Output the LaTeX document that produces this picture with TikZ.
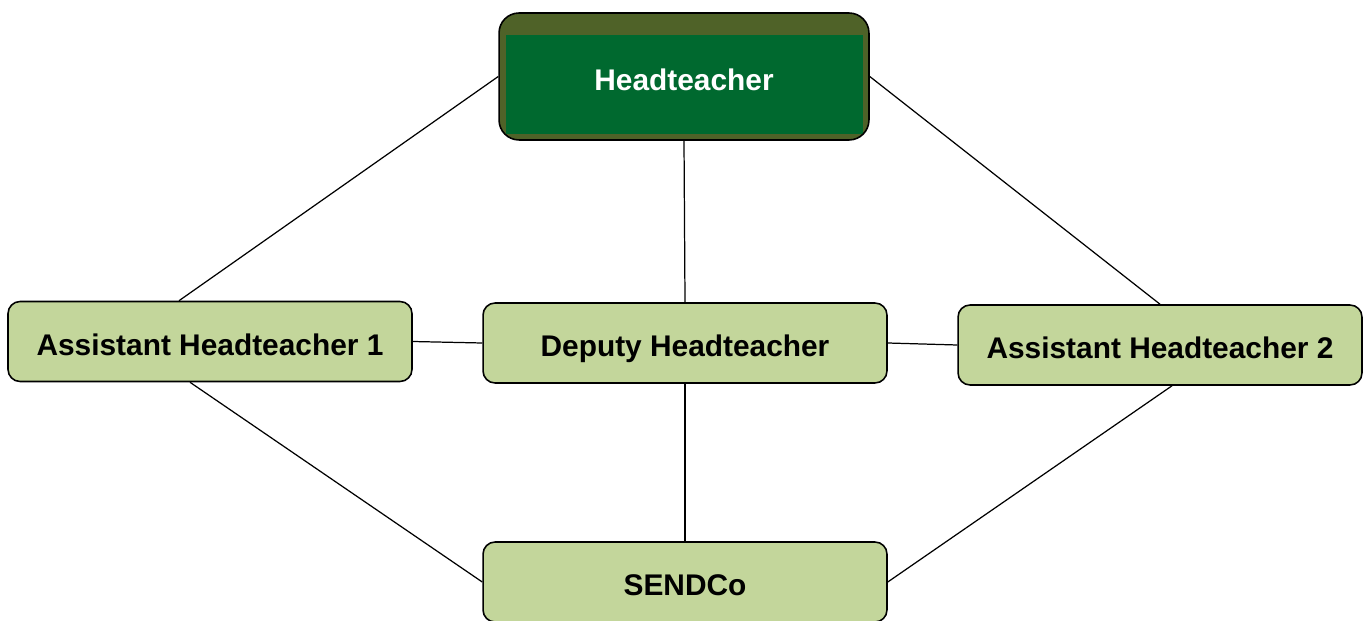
\documentclass[tikz,border=0pt]{standalone}
\usepackage{fontspec}
\setmainfont{Liberation Sans}
\usetikzlibrary{calc}
\definecolor{boxgreen}{HTML}{C3D69B}
\definecolor{headolive}{HTML}{4F6228}
\definecolor{headgreen}{HTML}{00692F}
\tikzset{
rolebox/.style={draw=black,line width=0.9pt,fill=boxgreen,rounded corners=0.24cm,
  minimum width=8.08cm,minimum height=1.6cm,text height=0.55cm,text depth=0pt,font=\fontsize{17}{20}\selectfont\bfseries},
headbox/.style={draw=black,line width=0.9pt,fill=headolive,rounded corners=0.4cm,
  minimum width=7.4cm,minimum height=2.54cm,text=white,text height=0.55cm,text depth=0pt,font=\fontsize{17}{20}\selectfont\bfseries,
  path picture={\fill[headgreen,sharp corners] ($(path picture bounding box.north west)+(0.14cm,-0.44cm)$)
    rectangle ($(path picture bounding box.south east)+(-0.12cm,0.12cm)$);}},
link/.style={line width=0.7pt}
}
\begin{document}
\begin{tikzpicture}[x=0.02cm,y=-0.02cm]
\useasboundingbox (0,0) rectangle (1368,621);
\node[headbox] (head) at (684,76.5) {Headteacher};
\node[rolebox] (ah1) at (210,341.5) {Assistant Headteacher 1};
\node[rolebox] (deputy) at (685,343) {Deputy Headteacher};
\node[rolebox] (ah2) at (1160,345) {Assistant Headteacher 2};
\node[rolebox] (sendco) at (685,582) {SENDCo};
\draw[link] (head.west) -- ([xshift=-0.62cm]ah1.north);
\draw[link] (head.east) -- (ah2.north);
\draw[link] (head.south) -- (deputy.north);
\draw[link] (ah1.east) -- (deputy.west);
\draw[link] (deputy.east) -- (ah2.west);
\draw[link] (deputy.south) -- (sendco.north);
\draw[link] ([xshift=-0.4cm]ah1.south) -- (sendco.west);
\draw[link] ([xshift=0.24cm]ah2.south) -- (sendco.east);
\end{tikzpicture}
\end{document}
